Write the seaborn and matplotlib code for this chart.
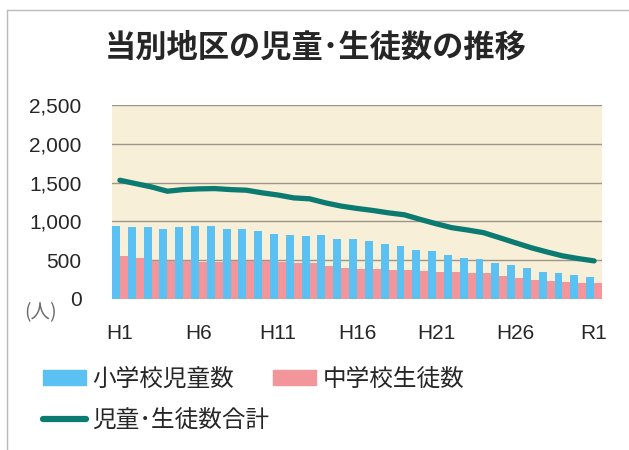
import numpy as np
import pandas as pd
import matplotlib.pyplot as plt
import seaborn as sns
from matplotlib.lines import Line2D
from matplotlib.patches import Patch

# 年度 (H1 = 1989 ... R1 = 2019)
years = ['H1', 'H2', 'H3', 'H4', 'H5', 'H6', 'H7', 'H8', 'H9', 'H10',
         'H11', 'H12', 'H13', 'H14', 'H15', 'H16', 'H17', 'H18', 'H19', 'H20',
         'H21', 'H22', 'H23', 'H24', 'H25', 'H26', 'H27', 'H28', 'H29', 'H30',
         'R1']
tick_years = ['H1', 'H6', 'H11', 'H16', 'H21', 'H26', 'R1']

# values
elementary = [938, 923, 923, 906, 923, 940, 940, 906, 906, 876,
              840, 827, 810, 827, 778, 778, 746, 712, 680, 630,
              613, 562, 530, 517, 466, 432, 398, 348, 334, 304,
              284]
junior_high = [556, 526, 491, 491, 491, 483, 483, 491, 491, 491,
               483, 466, 470, 430, 405, 389, 385, 376, 376, 363,
               342, 342, 333, 329, 299, 269, 248, 235, 214, 201,
               201]
total = [1530, 1487, 1444, 1389, 1410, 1419, 1423, 1410, 1402, 1368,
         1340, 1303, 1291, 1239, 1197, 1167, 1141, 1110, 1085, 1026,
         970, 919, 889, 855, 791, 726, 662, 607, 556, 521,
         491]

BLUE = '#5BC0F2'
PINK = '#F3969B'
TEAL = '#0B7A70'
GRID = '#9E958A'

sns.set_style('white')
plt.rcParams['font.family'] = ['Noto Sans CJK JP', 'DejaVu Sans']

fig = plt.figure(figsize=(6.29, 4.5), dpi=100)
ax = fig.add_axes([112 / 629, 1 - 299 / 450, 490 / 629, 194 / 450])
ax.set_facecolor('#F8EFD8')

# long-form table for the clustered bars
df = pd.DataFrame({
    'year': years * 2,
    'count': elementary + junior_high,
    'kind': ['小学校児童数'] * len(years) + ['中学校生徒数'] * len(years),
})
sns.barplot(data=df, x='year', y='count', hue='kind', palette=[BLUE, PINK],
            width=1.0, saturation=1, linewidth=0, legend=False, ax=ax)

# total line over the bars
sns.lineplot(x=np.arange(len(years)), y=total, color=TEAL, linewidth=3.8,
             solid_capstyle='round', ax=ax)

ax.set_xlim(-0.5, len(years) - 0.5)
ax.set_ylim(0, 2500)
ax.set_yticks(range(0, 2501, 500))
ax.set_yticklabels([f'{v:,}' for v in range(0, 2501, 500)],
                   family='Liberation Sans', fontsize=15)
ax.set_xticks([years.index(t) for t in tick_years])
ax.set_xticklabels(tick_years, family='Liberation Sans', fontsize=15)
ax.tick_params(axis='y', length=0, pad=22)
ax.tick_params(axis='x', length=0, pad=18)
ax.set_xlabel('')
ax.set_ylabel('')
ax.grid(axis='y', color=GRID, linewidth=1)
ax.set_axisbelow(True)
for s in ax.spines.values():
    s.set_visible(False)

fig.text(0.502, 1 - 48 / 450, '当別地区の児童･生徒数の推移',
         ha='center', va='center', fontsize=22.5, fontweight='bold')
fig.text(41 / 629, 1 - 313 / 450, '(人)', ha='center', va='center',
         fontsize=14, color='#6E6E6E')

handles = [Patch(color=BLUE), Line2D([], [], color=TEAL, linewidth=4.5),
           Patch(color=PINK)]
labels = ['小学校児童数', '児童･生徒数合計', '中学校生徒数']
fig.legend(handles, labels, ncol=2, loc='upper left',
           bbox_to_anchor=(43 / 629, 1 - 368 / 450), frameon=False,
           fontsize=17, handlelength=1.8, handleheight=0.62,
           handletextpad=0.3, columnspacing=0.15, labelspacing=0.75,
           borderpad=0, borderaxespad=0)

# chart area border
fig.add_artist(Line2D([7 / 629, 7 / 629], [0, 1 - 10 / 450], color='#BBBBBB',
                      linewidth=1, transform=fig.transFigure))
fig.add_artist(Line2D([7 / 629, 1], [1 - 10 / 450, 1 - 10 / 450],
                      color='#BBBBBB', linewidth=1, transform=fig.transFigure))

fig.savefig('out.png', dpi=100)
